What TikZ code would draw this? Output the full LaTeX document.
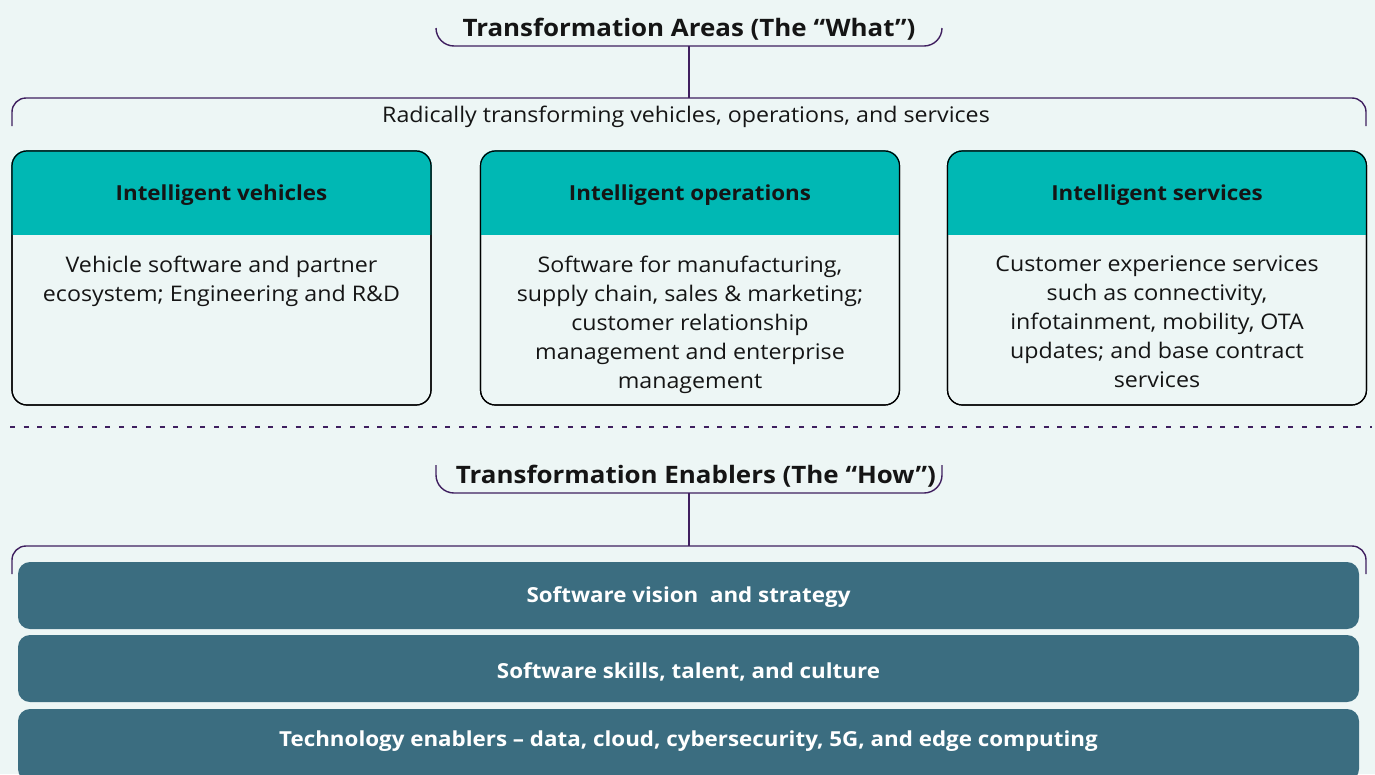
\documentclass[tikz,border=0pt]{standalone}
\usepackage{fontspec}
\setmainfont{Open Sans}[FakeStretch=1.08]
\definecolor{bgc}{HTML}{EDF6F5}
\definecolor{hdr}{HTML}{00B8B4}
\definecolor{barc}{HTML}{3B6D80}
\definecolor{purp}{HTML}{3F1F5F}
\definecolor{txt}{HTML}{151515}
\tikzset{
  bracketline/.style={draw=purp, line width=1.4pt},
  titletext/.style={font=\fontsize{24}{28}\selectfont\bfseries, text=txt, inner sep=0pt},
  subtext/.style={font=\fontsize{21.5}{26}\selectfont, text=txt, inner sep=0pt},
  areabox/.style={draw=black, line width=1.2pt, rounded corners=15pt, minimum width=419pt, minimum height=254pt, inner sep=0pt},
  hdrtext/.style={font=\fontsize{20.7}{24}\selectfont\bfseries, text=txt, inner sep=0pt},
  bodytext/.style={font=\fontsize{21.5}{29}\selectfont, text=txt, align=center, inner sep=0pt, anchor=north},
  dashline/.style={draw=purp, line width=2pt, dash pattern=on 5pt off 8.6pt},
  barbox/.style={fill=barc, rounded corners=12pt, minimum width=1341pt, inner sep=0pt},
  bartext/.style={font=\fontsize{20.7}{24}\selectfont\bfseries, text=white, inner sep=0pt},
}
\begin{document}
\begin{tikzpicture}[x=1pt,y=-1pt]
\fill[bgc] (0,0) rectangle (1375,774);
\useasboundingbox (0,0) rectangle (1375,774);
\begin{scope}
\clip (0,0) rectangle (1375,774);

% ---- Transformation Areas ----
\node[titletext] (t1) at (689,29) {Transformation Areas (The “What”)};
\coordinate (t1l) at (436,28);
\coordinate (t1r) at (942,28);
\coordinate (t1m) at (689,46);
\draw[bracketline, rounded corners=18pt] (t1l) -- (436,46) -- (942,46) -- (t1r);
\coordinate (s1l) at (12,126);
\coordinate (s1r) at (1366,126);
\coordinate (s1m) at (689,98);
\draw[bracketline, rounded corners=14pt] (s1l) -- (12,98) -- (1366,98) -- (s1r);
\draw[bracketline] (t1m) -- (s1m);
\node[subtext] (s1) at (686,117) {Radically transforming vehicles, operations, and services};

% ---- area boxes ----
\foreach \n/\cx/\head in {b1/221.5/Intelligent vehicles, b2/690/Intelligent operations, b3/1157/Intelligent services}{
  \node[areabox] (\n) at (\cx,278) {};
  \begin{scope}
    \clip[rounded corners=15pt] (\n.north west) rectangle (\n.south east);
    \fill[hdr] (\n.north west) rectangle ([yshift=-85pt]\n.north east);
  \end{scope}
  \node[areabox] at (\cx,278) {};
  \node[hdrtext] (\n h) at (\cx,195) {\head};
}
\node[bodytext] (b1t) at (221.5,256) {Vehicle software and partner\\ecosystem; Engineering and R\&D};
\node[bodytext] (b2t) at (690,256) {Software for manufacturing,\\supply chain, sales \& marketing;\\customer relationship\\management and enterprise\\management};
\node[bodytext] (b3t) at (1157,256) {Customer experience services\\such as connectivity,\\infotainment, mobility, OTA\\updates; and base contract\\services};

% ---- dashed separator ----
\coordinate (dl) at (10,427);
\coordinate (dr) at (1372,427);
\draw[dashline] (dl) -- (dr);

% ---- Transformation Enablers ----
\node[titletext] (t2) at (696,476) {Transformation Enablers (The “How”)};
\coordinate (t2l) at (436,465);
\coordinate (t2r) at (942,465);
\coordinate (t2m) at (689,493);
\draw[bracketline, rounded corners=18pt] (t2l) -- (436,493) -- (942,493) -- (t2r);
\coordinate (s2l) at (12,574);
\coordinate (s2r) at (1366,574);
\coordinate (s2m) at (689,546);
\draw[bracketline, rounded corners=14pt] (s2l) -- (12,546) -- (1366,546) -- (s2r);
\draw[bracketline] (t2m) -- (s2m);

\node[barbox, minimum height=67pt] (p1) at (688.5,595.5) {};
\node[bartext] (p1t) at (688.5,597) {Software vision~ and strategy};
\node[barbox, minimum height=67pt] (p2) at (688.5,668.5) {};
\node[bartext] (p2t) at (688.5,672) {Software skills, talent, and culture};
\node[barbox, minimum height=72pt] (p3) at (688.5,745) {};
\node[bartext] (p3t) at (688.5,741) {Technology enablers – data, cloud, cybersecurity, 5G, and edge computing};
\end{scope}
\end{tikzpicture}
\end{document}
